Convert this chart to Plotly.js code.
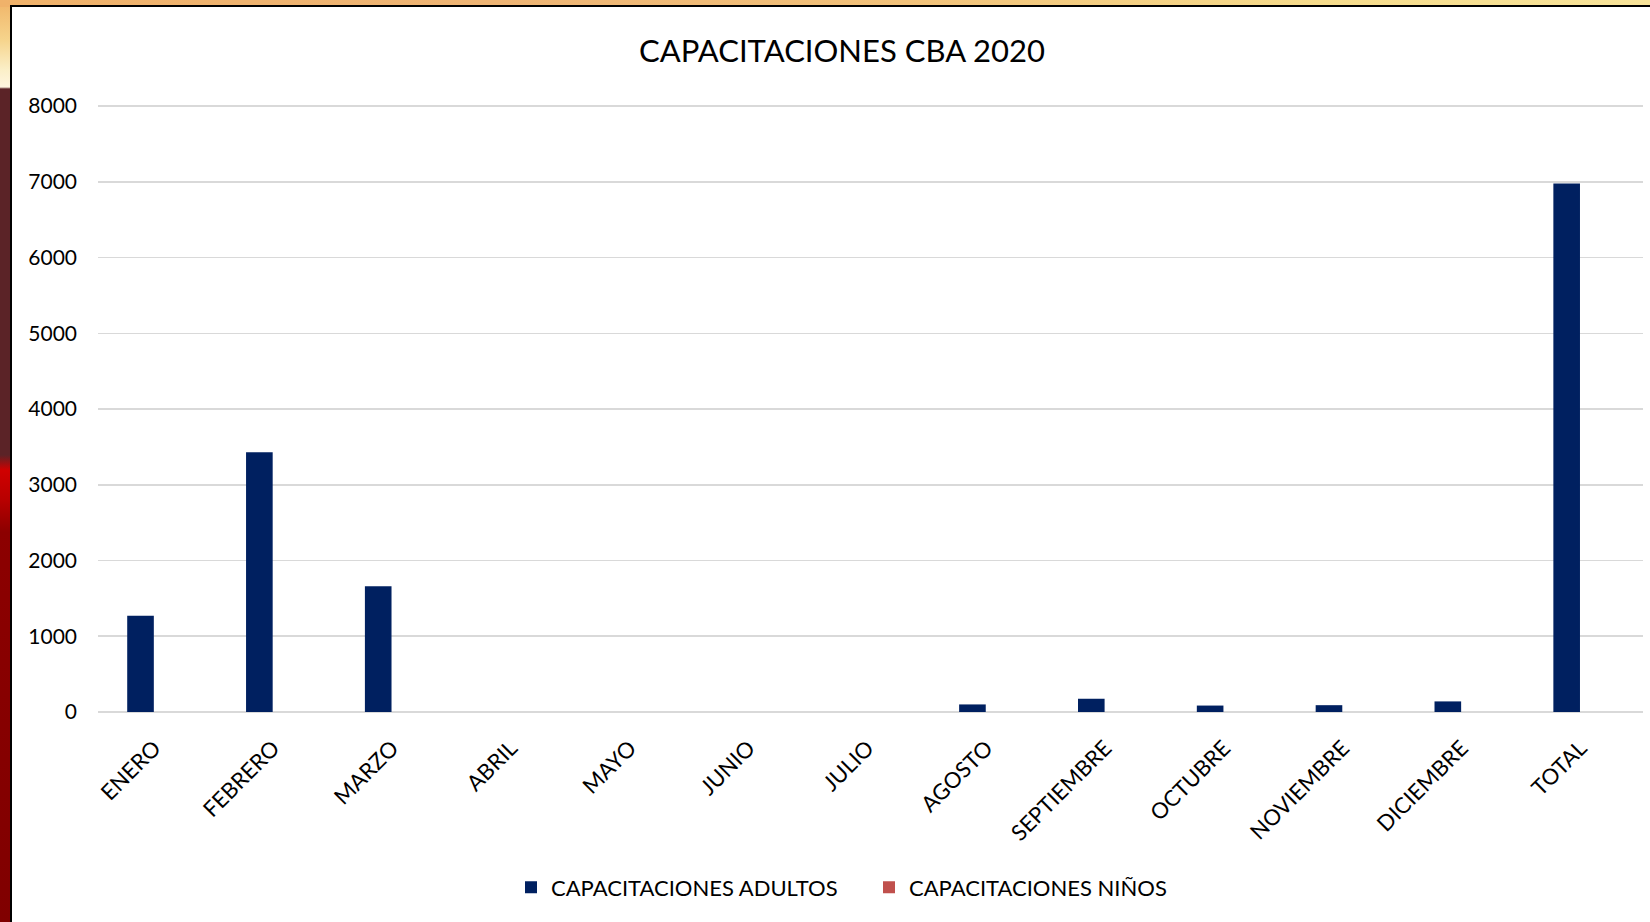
<!DOCTYPE html>
<html>
<head>
<meta charset="utf-8">
<script src="https://cdn.plot.ly/plotly-3.0.1.min.js"></script>
<style>
  html, body { margin: 0; padding: 0; width: 1650px; height: 922px; overflow: hidden; }
  #left { position: absolute; left: 0; top: 0; width: 12px; height: 922px;
    background: linear-gradient(to bottom, #f0b468 0px, #f6d48c 40px, #fbefc8 70px, #fff6e0 87px,
      #5b2327 89px, #5b2327 455px, #d00000 470px, #b80000 500px, #8c0000 532px, #800000 922px); }
  #top { position: absolute; left: 0; top: 0; width: 1650px; height: 7px;
    background: linear-gradient(to right, #f0b26a 0%, #eeb474 30%, #f2c27a 55%, #f6dc8c 80%, #f8e49a 100%); }
  #panel { position: absolute; left: 10px; top: 5px; width: 1638px; height: 915px;
    background: #ffffff; border-left: 2px solid #000; border-top: 2px solid #000; }
  #chart { position: absolute; left: 0; top: 0; width: 1650px; height: 922px; }
</style>
</head>
<body>
<div id="left"></div>
<div id="top"></div>
<div id="panel"></div>
<div id="chart"></div>
<script>
const categories = ["ENERO", "FEBRERO", "MARZO", "ABRIL", "MAYO", "JUNIO", "JULIO",
  "AGOSTO", "SEPTIEMBRE", "OCTUBRE", "NOVIEMBRE", "DICIEMBRE", "TOTAL"];
const adultos = [1270, 3430, 1660, 0, 0, 0, 0, 100, 175, 85, 90, 140, 6980];
const ninos = [0, 0, 0, 0, 0, 0, 0, 0, 0, 0, 0, 0, 0];
const seriesNames = ["CAPACITACIONES ADULTOS", "CAPACITACIONES NIÑOS"];
const yTicks = [0, 1000, 2000, 3000, 4000, 5000, 6000, 7000, 8000];
const chartTitle = "CAPACITACIONES CBA 2020";

const FONT = "Lato, 'Open Sans', 'Liberation Sans', sans-serif";

const traces = [
  { type: "bar", name: seriesNames[0], x: categories, y: adultos,
    marker: { color: "#002060" }, hoverinfo: "x+y" },
  { type: "bar", name: seriesNames[1], x: categories, y: ninos,
    marker: { color: "#c0504d" }, hoverinfo: "x+y" }
];

const layout = {
  width: 1650, height: 922,
  paper_bgcolor: "rgba(0,0,0,0)", plot_bgcolor: "rgba(0,0,0,0)",
  margin: { l: 98, r: 7, t: 105, b: 210, pad: 0 },
  barmode: "group", bargap: 0.431, bargroupgap: 0.2126,
  font: { family: FONT, color: "#000000" },
  title: { text: chartTitle, font: { family: FONT, size: 31, color: "#000000" },
    x: 0.5103, xref: "container", xanchor: "center", y: 0.9445, yref: "container", yanchor: "middle" },
  xaxis: { type: "category", tickangle: -45, showgrid: false, showline: false, zeroline: false,
    ticks: "", ticklabelstandoff: 18, ticklabelshift: -3,
    tickfont: { family: FONT, size: 22, color: "#000000" }, automargin: false },
  yaxis: { range: [0, 8015], tickvals: yTicks, ticktext: yTicks.map(String),
    showgrid: true, gridcolor: "#d9d9d9", gridwidth: 1.6,
    zeroline: true, zerolinecolor: "#d9d9d9", zerolinewidth: 1.6, showline: false,
    ticks: "", ticklabelstandoff: 20,
    tickfont: { family: FONT, size: 21, color: "#000000" }, automargin: false },
  showlegend: true,
  legend: { orientation: "h", x: (511 - 98) / 1545, xanchor: "left", y: -0.289, yanchor: "middle",
    entrywidth: 313, entrywidthmode: "pixels",
    font: { family: FONT, size: 22, color: "#000000" }, bgcolor: "rgba(0,0,0,0)",
    traceorder: "normal" }
};

Plotly.newPlot("chart", traces, layout, { displayModeBar: false, staticPlot: true });
</script>
</body>
</html>
